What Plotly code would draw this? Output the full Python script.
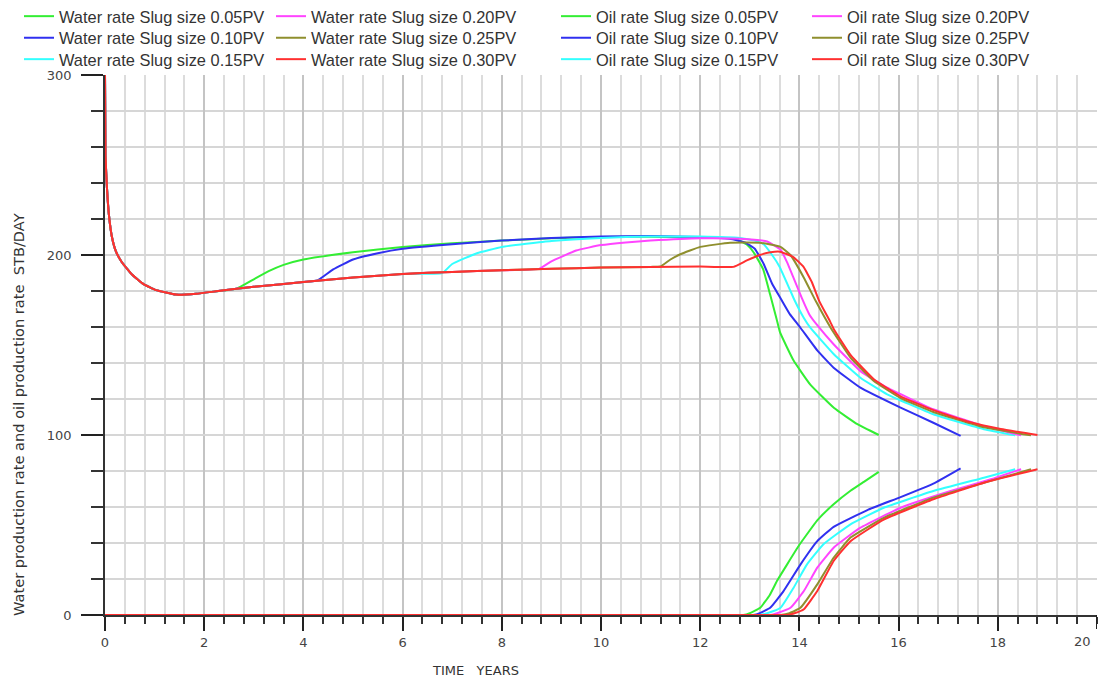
import plotly.graph_objects as go

# ---- shared early-time oil decline (identical for every slug size) ----
BASE_T = [0.00, 0.01, 0.04, 0.08, 0.14, 0.22, 0.34, 0.55, 0.77, 1.03, 1.43, 1.84,
          2.24, 2.65, 3.00, 4.00, 5.00, 6.00, 7.00, 8.00, 9.00, 10.0, 11.0, 12.0, 12.67]
BASE_OIL = [300, 255, 237, 222, 210, 202, 196, 189, 184, 180.5, 178, 178.5,
            179.8, 181.2, 182.3, 185, 187.5, 189.5, 190.6, 191.5, 192.3, 193, 193.4, 193.6, 193.4]

# ---- oil rate after polymer slug response, per slug size ----
OIL_T_005 = [2.65, 3.0, 3.3, 3.6, 4.0, 5.0, 6.0, 7.0, 8.0, 9.0, 10.0, 11.0, 12.0, 12.5,
             12.75, 12.95, 13.1, 13.27, 13.41, 13.54, 13.61, 13.88, 14.22, 14.7, 15.17, 15.6]
OIL_V_005 = [181.2, 186.5, 191, 194.5, 197.5, 201.5, 204.5, 206.5, 208, 209.3, 210, 210.2, 209.8, 209.5,
             208.5, 205.5, 200.5, 192, 178, 164.5, 157, 141.5, 128, 115, 106, 100]

OIL_T_010 = [4.28, 4.6, 5.0, 5.5, 6.0, 7.0, 8.0, 9.0, 10.0, 11.0, 12.0, 12.6, 12.9, 13.1,
             13.28, 13.45, 13.64, 13.81, 14.01, 14.36, 14.69, 15.23, 16.04, 16.7, 17.25]
OIL_V_010 = [185.8, 192, 197.5, 201, 203.5, 206, 208, 209.5, 210.3, 210.5, 210, 209, 207, 203.5,
             195, 184, 175, 167, 160, 147, 137.4, 126.3, 115.2, 106.8, 99.5]

OIL_T_015 = [6.8, 7.0, 7.5, 8.0, 9.0, 10.0, 11.0, 12.0, 12.8, 13.1, 13.28, 13.45, 13.6,
             13.82, 13.9, 14.09, 14.22, 14.69, 15.23, 15.77, 16.7, 17.72, 18.35]
OIL_V_015 = [190, 195, 201, 204.5, 207.8, 209.5, 210.3, 210.3, 209.5, 208, 206, 200, 193.5,
             180, 175, 165, 159.6, 145, 131.8, 122.6, 111.5, 103.2, 99.8]

OIL_T_020 = [8.75, 9.0, 9.5, 10.0, 10.5, 11.0, 12.0, 12.8, 13.35, 13.62, 13.75, 13.88,
             14.05, 14.2, 14.36, 14.69, 15.23, 15.77, 16.7, 17.72, 18.47]
OIL_V_020 = [192.3, 196.5, 202.5, 205.5, 207, 208, 209.3, 209, 207.5, 203, 196, 187.4,
             176, 167, 161, 150.4, 135.5, 126.3, 114.3, 105, 99.8]

OIL_T_025 = [11.2, 11.4, 11.6, 12.0, 12.6, 13.2, 13.62, 13.82, 14.09, 14.33, 14.63,
             15.03, 15.5, 16.04, 16.7, 17.72, 18.67]
OIL_V_025 = [193.6, 197.5, 200.4, 204.5, 206.8, 206.8, 204.5, 200, 187.4, 174.4, 159.6,
             143, 130, 120.5, 112.8, 104.3, 99.8]

OIL_T_030 = [12.67, 12.94, 13.2, 13.42, 13.61, 13.87, 14.08, 14.25, 14.4, 14.62, 14.7,
             15.03, 15.5, 16.04, 16.7, 17.39, 18.06, 18.8]
OIL_V_030 = [193.4, 197, 200, 201.5, 201.8, 199, 193.5, 185, 174.4, 163, 158.5,
             144.5, 131, 121.5, 113.8, 107.5, 103.3, 100]

# ---- water rate (zero until breakthrough) ----
WATER_T_005 = [0, 3, 6, 9, 12, 12.6, 12.87, 13.0, 13.21, 13.4, 13.55, 13.75, 14.0, 14.36,
               14.69, 15.03, 15.3, 15.6]
WATER_V_005 = [0, 0, 0, 0, 0, 0, 0, 1, 4, 11, 19, 28, 39, 52.6, 61.5, 69, 74, 79.5]

WATER_T_010 = [0, 3, 6, 9, 12, 12.8, 13.07, 13.2, 13.41, 13.68, 14.02, 14.36, 14.69, 15.37,
               16.04, 16.7, 17.25]
WATER_V_010 = [0, 0, 0, 0, 0, 0, 0, 1, 4, 13.3, 28, 41, 49, 58.3, 65.5, 73, 81.5]

WATER_T_015 = [0, 3, 6, 9, 12, 12.9, 13.2, 13.35, 13.62, 13.88, 14.15, 14.49, 15.03, 15.7,
               16.7, 17.72, 18.35]
WATER_V_015 = [0, 0, 0, 0, 0, 0, 0, 1, 4, 15, 28, 39.4, 50.4, 59.6, 68.9, 76.3, 81]

WATER_T_020 = [0, 3, 6, 9, 12, 13.1, 13.41, 13.55, 13.82, 14.09, 14.36, 14.69, 15.23, 16.04,
               17.05, 17.86, 18.47]
WATER_V_020 = [0, 0, 0, 0, 0, 0, 0, 1, 4, 13.3, 26.3, 37.4, 48.5, 59.6, 68.9, 75.4, 81]

WATER_T_025 = [0, 3, 6, 9, 12, 13.3, 13.62, 13.8, 14.02, 14.36, 14.69, 15.03, 15.7, 16.7,
               17.72, 18.67]
WATER_V_025 = [0, 0, 0, 0, 0, 0, 0, 1, 4, 17, 31.8, 43, 54, 65.2, 73.5, 81]

WATER_T_030 = [0, 3, 6, 9, 12, 13.45, 13.75, 13.9, 14.09, 14.36, 14.69, 15.03, 15.7, 16.7,
               17.72, 18.8]
WATER_V_030 = [0, 0, 0, 0, 0, 0, 0, 1, 3.2, 13.3, 30, 41, 53, 64.3, 73.5, 81]

SLUGS = ["0.05", "0.10", "0.15", "0.20", "0.25", "0.30"]
COLORS = ["#33ee33", "#3030f0", "#33ffff", "#ff44ff", "#8f8f2e", "#ff3030"]

X_TICKS = [0, 2, 4, 6, 8, 10, 12, 14, 16, 18]
X_LAST_TICK = 20

OIL = [(OIL_T_005, OIL_V_005), (OIL_T_010, OIL_V_010), (OIL_T_015, OIL_V_015),
       (OIL_T_020, OIL_V_020), (OIL_T_025, OIL_V_025), (OIL_T_030, OIL_V_030)]
WATER = [(WATER_T_005, WATER_V_005), (WATER_T_010, WATER_V_010), (WATER_T_015, WATER_V_015),
         (WATER_T_020, WATER_V_020), (WATER_T_025, WATER_V_025), (WATER_T_030, WATER_V_030)]

W, H = 1102, 682
ML, MR, MT, MB = 105, 5, 75, 67

# legend grid: column sample starts and row centres (pixels)
LEG_COLS = [24, 276, 561, 812]
LEG_ROWS = [16.5, 38, 59.5]


def oil_series(t_after, v_after):
    t = [bt for bt in BASE_T if bt < t_after[0]] + list(t_after)
    v = [bv for bt, bv in zip(BASE_T, BASE_OIL) if bt < t_after[0]] + list(v_after)
    return t, v


fig = go.Figure()
legend_layouts = {}
k = 0
for kind, series in (("Water", WATER), ("Oil", OIL)):
    for i, slug in enumerate(SLUGS):
        if kind == "Oil":
            t, v = oil_series(*series[i])
        else:
            t, v = series[i]
        key = "legend" if k == 0 else f"legend{k + 1}"
        col = (k // 3)
        row = k % 3
        fig.add_trace(go.Scatter(
            x=t, y=v, mode="lines",
            line=dict(color=COLORS[i], width=2, shape="spline", smoothing=0.35),
            name=f"{kind} rate Slug size {slug}PV",
            legend=key, showlegend=True, hoverinfo="skip",
        ))
        legend_layouts[key] = dict(
            xref="container", yref="container",
            x=(LEG_COLS[col] - 5) / W, xanchor="left",
            y=1 - LEG_ROWS[row] / H, yanchor="middle",
            bgcolor="rgba(0,0,0,0)", borderwidth=0,
            font=dict(family="Liberation Sans, Arial, sans-serif", size=16.4, color="#333333"),
        )
        k += 1

tick_font = dict(family="DejaVu Sans, sans-serif", size=13, color="#444444")

fig.update_layout(
    width=W, height=H,
    margin=dict(l=ML, r=MR, t=MT, b=MB, pad=0, autoexpand=False),
    paper_bgcolor="white", plot_bgcolor="white",
    xaxis=dict(
        range=[0, 20], tickmode="array", tickvals=X_TICKS,
        ticks="outside", ticklen=14, tickwidth=2, tickcolor="#222222",
        showline=True, linecolor="#333333", linewidth=1.5,
        showgrid=True, gridcolor="#c4c4c4", gridwidth=1.5, zeroline=False,
        tickfont=tick_font, ticklabelstandoff=1, automargin=False,
        minor=dict(dtick=0.4, tick0=0, ticks="outside", ticklen=7, tickwidth=1.5,
                   tickcolor="#333333", showgrid=True, gridcolor="#dcdcdc", gridwidth=1.5),
    ),
    yaxis=dict(
        range=[0, 300], tick0=0, dtick=100,
        ticks="outside", ticklen=22, tickwidth=2, tickcolor="#222222",
        showline=True, linecolor="#333333", linewidth=1.5,
        showgrid=True, gridcolor="#d6d6d6", gridwidth=1.5, zeroline=False,
        tickfont=tick_font, ticklabelstandoff=7, automargin=False,
        minor=dict(dtick=20, tick0=0, ticks="outside", ticklen=12, tickwidth=1.5,
                   tickcolor="#333333", showgrid=True, gridcolor="#d6d6d6", gridwidth=1.5),
    ),
    shapes=[
        # major tick at the right end of the time axis
        dict(type="line", xref="x", yref="paper", x0=X_LAST_TICK, x1=X_LAST_TICK,
             y0=0, y1=-14 / (H - MT - MB), line=dict(color="#222222", width=2)),
    ],
    annotations=[
        dict(text=str(X_LAST_TICK), xref="x", yref="paper", x=X_LAST_TICK,
             y=(H - MB - 641) / (H - MT - MB), xanchor="right", yanchor="middle",
             xshift=-4, showarrow=False, font=tick_font),
        dict(text="TIME\u00a0\u00a0\u00a0YEARS", xref="paper", yref="paper",
             x=(475 - ML) / (W - ML - MR), y=(H - MB - 670) / (H - MT - MB),
             xanchor="center", yanchor="middle", showarrow=False,
             font=dict(family="DejaVu Sans, sans-serif", size=13, color="#333333")),
        dict(text="Water production rate and oil production rate\u00a0\u00a0STB/DAY",
             xref="paper", yref="paper", textangle=-90,
             x=(18 - ML) / (W - ML - MR), y=(H - MB - 415) / (H - MT - MB),
             xanchor="center", yanchor="middle", showarrow=False,
             font=dict(family="DejaVu Sans, sans-serif", size=14.6, color="#333333")),
    ],
    **legend_layouts,
)

fig.write_html("out.html")
